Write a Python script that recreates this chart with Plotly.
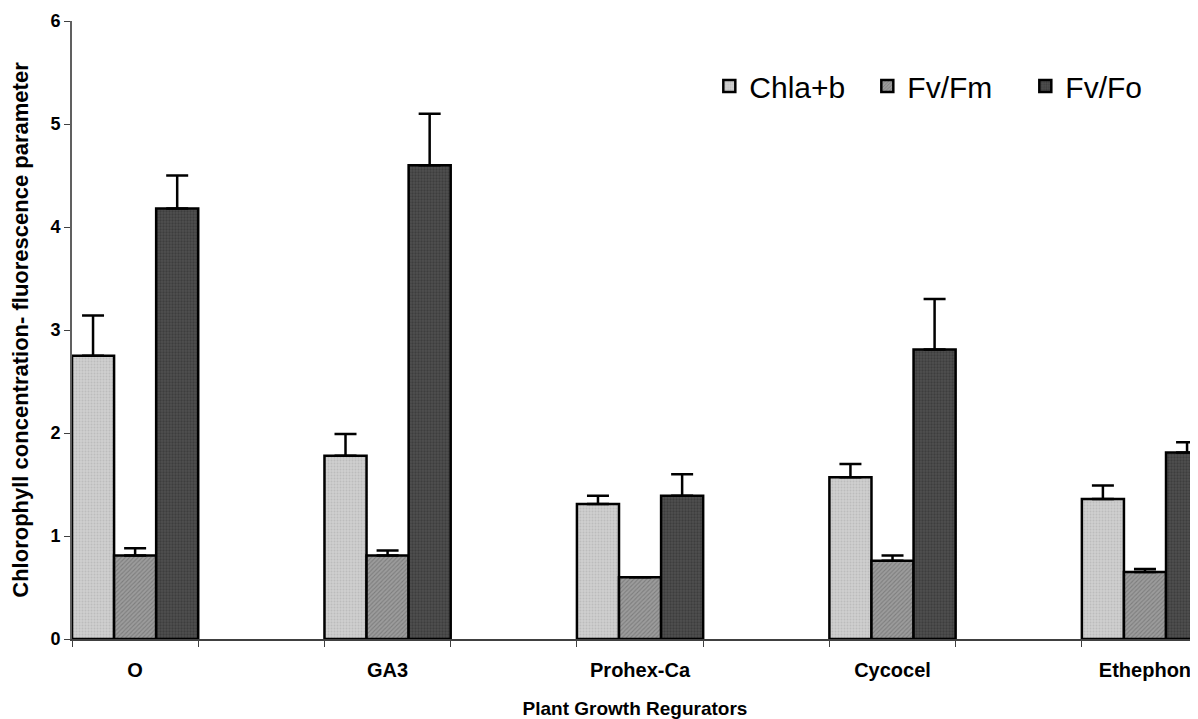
import plotly.graph_objects as go

categories = ["O", "GA3", "Prohex-Ca", "Cycocel", "Ethephon"]
series_names = ["Chla+b", "Fv/Fm", "Fv/Fo"]
chl_ab = [2.75, 1.78, 1.31, 1.57, 1.36]
fv_fm = [0.81, 0.81, 0.60, 0.76, 0.65]
fv_fo = [4.18, 4.60, 1.39, 2.81, 1.81]
err_chl_ab = [0.39, 0.21, 0.08, 0.13, 0.13]
err_fv_fm = [0.07, 0.05, 0.0, 0.05, 0.03]
err_fv_fo = [0.32, 0.50, 0.21, 0.49, 0.10]

values = [chl_ab, fv_fm, fv_fo]
errors = [err_chl_ab, err_fv_fm, err_fv_fo]
styles = [
    dict(bg="#cfcfcf", fg="#a9a9a9", shape=".", size=3, sol=0.35),
    dict(bg="#9c9c9c", fg="#5e5e5e", shape="/", size=3, sol=0.35),
    dict(bg="#505050", fg="#2a2a2a", shape=".", size=3, sol=0.45),
]

FONT = "Liberation Sans, Arial, sans-serif"
xpos = list(range(len(categories)))
fig = go.Figure()
for name, vals, errs, st in zip(series_names, values, errors, styles):
    fig.add_trace(go.Bar(
        x=xpos, y=vals, name=name,
        marker=dict(color=st["bg"],
                    line=dict(color="black", width=2.5),
                    pattern=dict(shape=st["shape"], fgcolor=st["fg"], bgcolor=st["bg"],
                                 size=st["size"], solidity=st["sol"])),
        error_y=dict(type="data", array=errs, arrayminus=[0] * len(errs), symmetric=False,
                     color="black", thickness=2.5, width=11),
    ))

boundaries = [p + d for p in xpos for d in (-0.25, 0.25)]

# the page body adds an 8px offset; the figure is sized so the plot area lands at x 72..1198, y 21..639
fig.update_layout(
    width=1190, height=711,
    margin=dict(l=64, r=0, t=13, b=80),
    paper_bgcolor="white", plot_bgcolor="white",
    barmode="group", bargap=0.5, bargroupgap=0,
    font=dict(family=FONT, color="black"),
    legend=dict(orientation="h", x=0.566, y=0.937, xanchor="left", yanchor="top",
                font=dict(size=30, family=FONT),
                bgcolor="rgba(0,0,0,0)", itemwidth=30, tracegroupgap=0,
                entrywidth=113, entrywidthmode="pixels"),
    xaxis=dict(
        range=[-0.25, 4.21], tickmode="array", tickvals=xpos, ticktext=categories,
        ticks="", showgrid=False, zeroline=False, automargin=False,
        showline=True, linecolor="#404040", linewidth=1.5,
        tickfont=dict(size=20, family=FONT, weight="bold"),
        ticklabelstandoff=12,
        minor=dict(tickmode="array", tickvals=boundaries, ticks="outside", ticklen=6,
                   tickcolor="#404040", tickwidth=1, showgrid=False),
        title=dict(text="Plant Growth Regurators", standoff=26,
                   font=dict(size=19, family=FONT, weight="bold")),
    ),
    yaxis=dict(
        range=[0, 6], tickmode="linear", tick0=0, dtick=1,
        ticks="outside", ticklen=6, tickcolor="#404040", tickwidth=1,
        showgrid=False, zeroline=False, automargin=False,
        showline=True, linecolor="#606060", linewidth=2,
        tickfont=dict(size=18, family=FONT, weight="bold"),
        title=dict(text="Chlorophyll concentration- fluorescence parameter", standoff=20,
                   font=dict(size=22, family=FONT, weight="bold")),
    ),
)

fig.write_html("out.html", config={"displayModeBar": False})
